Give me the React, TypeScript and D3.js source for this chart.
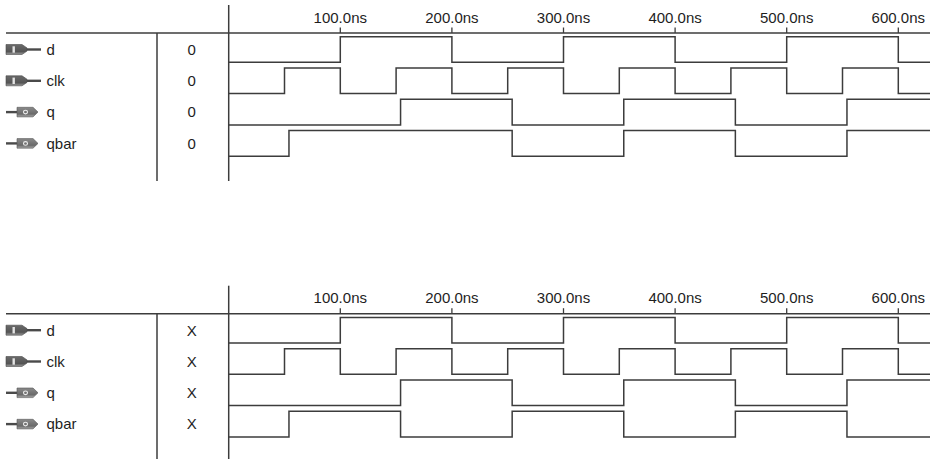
import React from "react";
import * as d3 from "d3";

// time axis ticks (ns)
const TICKS = [100, 200, 300, 400, 500, 600];

// signal rows
const SIGNALS = ["d", "clk", "q", "qbar"];
const DIRS = ["in", "in", "out", "out"];
const VALUES_1 = ["0", "0", "0", "0"];
const VALUES_2 = ["X", "X", "X", "X"];

// waveforms as [time ns, level] steps
const D_WAVE = [[0, 0], [100, 1], [200, 0], [300, 1], [400, 0], [500, 1], [600, 0], [660, 0]];
const CLK_WAVE = [[0, 0], [50, 1], [100, 0], [150, 1], [200, 0], [250, 1], [300, 0], [350, 1], [400, 0], [450, 1], [500, 0], [550, 1], [600, 0], [660, 0]];
const Q_WAVE_1 = [[0, 0], [154, 1], [254, 0], [354, 1], [454, 0], [554, 1], [660, 1]];
const QBAR_WAVE_1 = [[0, 0], [54, 1], [254, 0], [354, 1], [454, 0], [554, 1], [660, 1]];
const Q_WAVE_2 = [[0, 0], [154, 1], [254, 0], [354, 1], [454, 0], [554, 1], [660, 1]];
const QBAR_WAVE_2 = [[0, 0], [54, 1], [154, 0], [254, 1], [354, 0], [454, 1], [554, 0], [660, 0]];

const W = 930;
const H = 459;
const ROW_H = 31.3;
const HEADER_Y = 33;
const LINE = "#3c3c3c";
const FONT = "'Liberation Sans', Arial, sans-serif";

const x = d3.scaleLinear().domain([0, 600]).range([228.7, 898.3]);

function InIcon({ cy }) {
  return (
    <g>
      <path d={`M6,${cy - 5} H22 L27,${cy - 1.6} V${cy + 1.6} L22,${cy + 5} H6 Z`} fill="url(#iconIn)" stroke="#4a4a4a" strokeWidth={0.6} />
      <rect x={12.5} y={cy - 3.2} width={2.4} height={6.4} fill="#e4e4e4" />
      <line x1={27} x2={41} y1={cy} y2={cy} stroke="#4a4a4a" strokeWidth={2.4} />
    </g>
  );
}

function OutIcon({ cy }) {
  return (
    <g>
      <line x1={6} x2={18} y1={cy} y2={cy} stroke="#4a4a4a" strokeWidth={2.4} />
      <path d={`M17,${cy - 4.8} H33 L38,${cy} L33,${cy + 4.8} H17 Z`} fill="url(#iconOut)" stroke="#555" strokeWidth={0.6} />
      <ellipse cx={25.5} cy={cy} rx={2} ry={1.8} fill="none" stroke="#eee" strokeWidth={1.1} />
    </g>
  );
}

function Panel({ top, values, waves }) {
  const rows = SIGNALS.map((name, i) => {
    const rowTop = top + HEADER_Y + i * ROW_H;
    const y = d3.scaleLinear().domain([0, 1]).range([rowTop + 29.3, rowTop + 3.7]);
    const line = d3.line<number[]>()
      .x(d => x(d[0]))
      .y(d => y(d[1]))
      .curve(d3.curveStepAfter);
    const cy = rowTop + 16.5;
    return (
      <g key={name}>
        {DIRS[i] === "in" ? <InIcon cy={cy} /> : <OutIcon cy={cy} />}
        <text x={46.5} y={rowTop + 21.8} fontSize={15} fill="#1e1e1e" fontFamily={FONT}>{name}</text>
        <text x={191.7} y={rowTop + 21.8} fontSize={15} fill="#1e1e1e" fontFamily={FONT} textAnchor="middle">{values[i]}</text>
        <path d={line(waves[i]) || ""} fill="none" stroke={LINE} strokeWidth={1.5} />
      </g>
    );
  });

  return (
    <g>
      <line x1={6} x2={W} y1={top + HEADER_Y} y2={top + HEADER_Y} stroke={LINE} strokeWidth={1.5} />
      <line x1={157} x2={157} y1={top + HEADER_Y} y2={top + 181} stroke={LINE} strokeWidth={1.5} />
      <line x1={x(0)} x2={x(0)} y1={top + 5} y2={top + 181} stroke={LINE} strokeWidth={1.5} />
      {TICKS.map(t => (
        <g key={t}>
          <line x1={x(t)} x2={x(t)} y1={top + 27.5} y2={top + HEADER_Y} stroke={LINE} strokeWidth={1.3} />
          <text x={x(t)} y={top + 22.6} fontSize={15} fill="#1e1e1e" fontFamily={FONT} textAnchor="middle">{`${t.toFixed(1)}ns`}</text>
        </g>
      ))}
      {rows}
    </g>
  );
}

export default function App() {
  return (
    <svg width={W} height={H} style={{ position: "absolute", left: 0, top: 0, display: "block", background: "#fff" }}>
      <defs>
        <linearGradient id="iconIn" x1="0" y1="0" x2="0" y2="1">
          <stop offset="0%" stopColor="#6a6a6a" />
          <stop offset="70%" stopColor="#555" />
          <stop offset="100%" stopColor="#9a9a9a" />
        </linearGradient>
        <linearGradient id="iconOut" x1="0" y1="0" x2="0" y2="1">
          <stop offset="0%" stopColor="#8a8a8a" />
          <stop offset="70%" stopColor="#6a6a6a" />
          <stop offset="100%" stopColor="#aaa" />
        </linearGradient>
      </defs>
      <rect width={W} height={H} fill="#fff" />
      <Panel top={0} values={VALUES_1} waves={[D_WAVE, CLK_WAVE, Q_WAVE_1, QBAR_WAVE_1]} />
      <Panel top={280.7} values={VALUES_2} waves={[D_WAVE, CLK_WAVE, Q_WAVE_2, QBAR_WAVE_2]} />
    </svg>
  );
}
